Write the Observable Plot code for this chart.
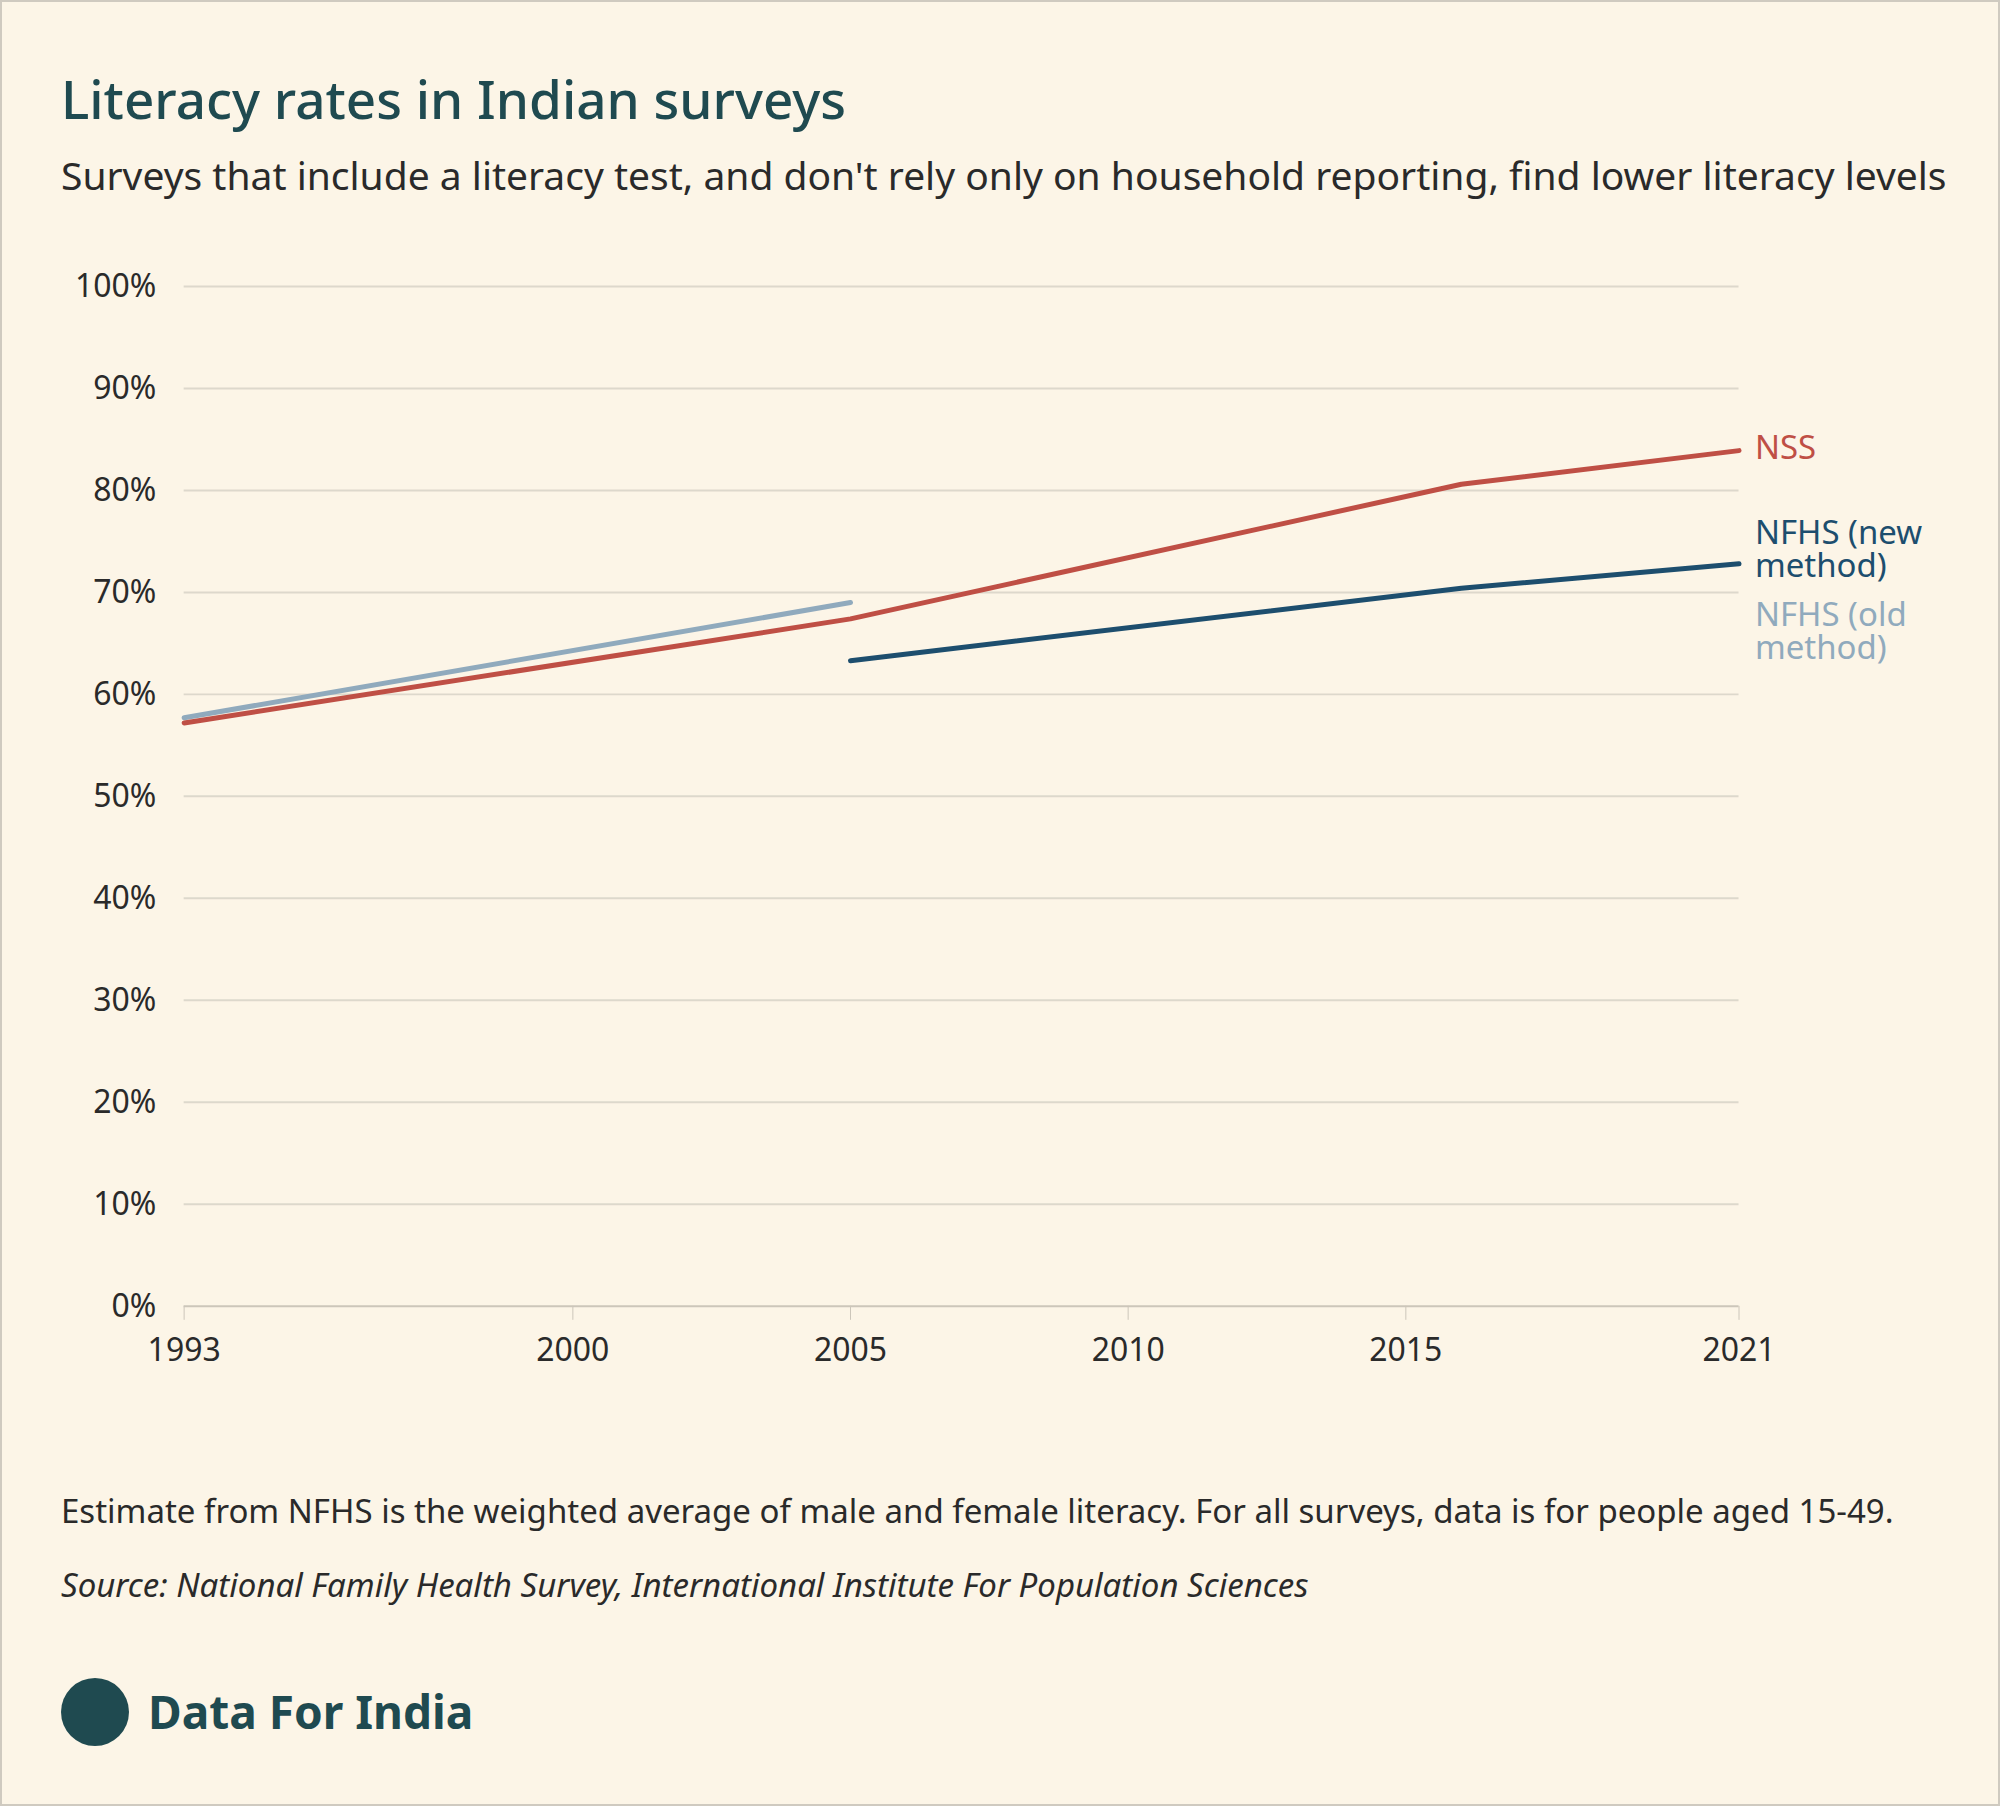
<!DOCTYPE html>
<html><head><meta charset="utf-8">
<script src="https://cdn.jsdelivr.net/npm/d3@7"></script>
<script src="https://cdn.jsdelivr.net/npm/@observablehq/plot@0.6"></script>
<style>
body{margin:0;background:#fcf5e7;font-family:"Noto Sans",sans-serif;}
#wrap{position:relative;width:1996px;height:1802px;border:2px solid #cfcac0;background:#fcf5e7;overflow:hidden}
.t{position:absolute;left:59px;white-space:nowrap}
</style></head><body>
<div id="wrap">
<div class="t" style="top:60px;font-size:53px;font-weight:500;color:#1f4a50">Literacy rates in Indian surveys</div>
<div class="t" style="top:146px;font-size:39px;color:#2a2a2a">Surveys that include a literacy test, and don't rely only on household reporting, find lower literacy levels</div>
<div id="chart" style="position:absolute;left:0;top:230px"></div>
<div class="t" style="top:1486px;font-size:33px;color:#2a2a2a">Estimate from NFHS is the weighted average of male and female literacy. For all surveys, data is for people aged 15-49.</div>
<div class="t" style="top:1560px;font-size:33px;font-style:italic;color:#2a2a2a">Source: National Family Health Survey, International Institute For Population Sciences</div>
<div style="position:absolute;left:59px;top:1676px;width:68px;height:68px;border-radius:50%;background:#1f4a50"></div>
<div class="t" style="left:146px;top:1678px;font-size:46px;font-weight:700;color:#1f4a50">Data For India</div>
</div>
<script>
const nssYears = [1993, 2005, 2016, 2021];
const nssValues = [57.2, 67.4, 80.6, 83.9];
const oldYears = [1993, 2005];
const oldValues = [57.7, 69.0];
const newYears = [2005, 2016, 2021];
const newValues = [63.3, 70.4, 72.8];
const xTicks = [1993, 2000, 2005, 2010, 2015, 2021];

const rows = (ys, vs, s) => ys.map((y, i) => ({year: y, value: vs[i], series: s}));
const nss = rows(nssYears, nssValues, "NSS");
const oldM = rows(oldYears, oldValues, "old");
const newM = rows(newYears, newValues, "new");
const colors = {NSS: "#bf4f45", old: "#90aabd", new: "#1d4e6e"};
const labels = [
  {year: 2021, value: nssValues[3], text: "NSS", series: "NSS", dy: -2},
  {year: 2021, value: newValues[2], text: "NFHS (new\nmethod)", series: "new", dy: -14},
  {year: 2021, value: newValues[2], text: "NFHS (old\nmethod)", series: "old", dy: 68}
];

const chart = Plot.plot({
  width: 2000, height: 1156,
  marginLeft: 182, marginRight: 260, marginTop: 54, marginBottom: 80,
  style: {background: "transparent", fontFamily: "Noto Sans", fontSize: "32px", color: "#2a2a2a"},
  x: {domain: [1993, 2021], label: null},
  y: {domain: [0, 100], label: null},
  marks: [
    Plot.gridY({ticks: d3.range(10, 101, 10), stroke: "#ddd8cc", strokeOpacity: 1, strokeWidth: 2}),
    Plot.ruleY([0], {stroke: "#ccc6ba", strokeWidth: 2}),
    Plot.axisY({ticks: d3.range(0, 101, 10), tickFormat: d => d + "%", tickSize: 0, tickPadding: 28, fontSize: 32, label: null}),
    Plot.axisX({ticks: xTicks, tickFormat: d => String(d), tickSize: 14, tickPadding: 18, stroke: "#ccc6ba", fontSize: 32, label: null}),
    Plot.line(oldM, {x: "year", y: "value", stroke: colors.old, strokeWidth: 5}),
    Plot.line(nss, {x: "year", y: "value", stroke: colors.NSS, strokeWidth: 5}),
    Plot.line(newM, {x: "year", y: "value", stroke: colors.new, strokeWidth: 5}),
    ...labels.map(l => Plot.text([l], {x: "year", y: "value", text: "text", fill: colors[l.series], textAnchor: "start", dx: 16, dy: l.dy, fontSize: 33, lineHeight: 1.0}))
  ]
});
document.getElementById("chart").append(chart);
</script>
</body></html>
